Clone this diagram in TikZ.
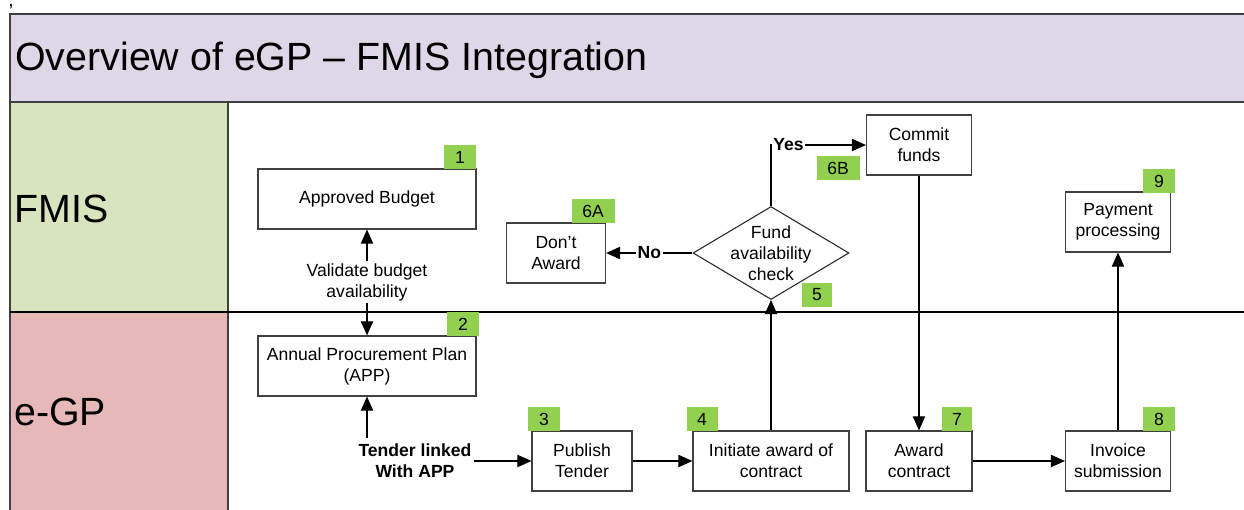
\documentclass[tikz,border=0pt]{standalone}
\usepackage{fontspec}
\setmainfont{Liberation Sans}
\usetikzlibrary{shapes.geometric, arrows.meta}

\definecolor{titlelav}{HTML}{DDD7E8}
\definecolor{fmisgreen}{HTML}{D7E4BD}
\definecolor{egpred}{HTML}{E6B9B8}
\definecolor{stepgreen}{HTML}{92D050}

\newcommand{\boxfont}{\fontsize{10}{12}\selectfont}
\newcommand{\lanefont}{\fontsize{22.4}{26}\selectfont}

\tikzset{
  proc/.style={draw=black!75, line width=0.7pt, fill=white, align=center,
    font=\boxfont, inner sep=1pt, minimum height=1.2cm},
  decision/.style={diamond, draw=black!85, line width=0.6pt, fill=white,
    inner sep=0pt, minimum width=3.12cm, minimum height=1.86cm},
  tag/.style={fill=stepgreen, inner sep=0pt, minimum height=0.48cm, font=\boxfont},
  flow/.style={draw=black, line width=0.6pt, -{Triangle[length=8pt, width=7pt]}},
  lbl/.style={align=center, font=\boxfont, inner sep=1pt},
  answer/.style={fill=white, inner sep=1pt, font=\boxfont\bfseries},
}

\begin{document}
\begin{tikzpicture}[x=0.02cm, y=-0.02cm]
    \useasboundingbox (0,0) rectangle (1244,510);
    \clip (0,0) rectangle (1244,510);

    % heading
    \node[anchor=base, inner sep=0pt, text height=1.5pt, text depth=2pt,
        font=\fontsize{11}{13}\selectfont] (comma) at (11,6.5) {,};
    \draw[black!75, line width=0.7pt, fill=titlelav] (10,14) rectangle (1260,102);
    \node[anchor=base west, inner sep=0pt, font=\lanefont] (heading) at (15,71)
        {Overview of eGP – FMIS Integration};

    % swim lanes
    \draw[black!75, line width=0.7pt, fill=fmisgreen] (10,102) rectangle (228,312);
    \draw[black!75, line width=0.7pt, fill=egpred] (10,312) rectangle (228,520);
    \draw[line width=0.7pt] (10,312) -- (1260,312);
    \node[anchor=base west, inner sep=0pt, font=\lanefont] (fmis) at (14,222) {FMIS};
    \node[anchor=base west, inner sep=0pt, font=\lanefont] (egp) at (14,425) {e-GP};

    % process steps
    \node[proc, minimum width=4.36cm] (budget) at (367,199) {Approved Budget};
    \node[proc, minimum width=4.36cm] (app) at (367,366) {Annual Procurement Plan\\(APP)};
    \node[proc, minimum width=2cm] (publish) at (582,461) {Publish\\Tender};
    \node[proc, minimum width=3.12cm] (initiate) at (771,461) {Initiate award of\\contract};
    \node[decision, label={[lbl]center:{Fund\\availability\\check}}] (fundcheck) at (771,253) {};
    \node[proc, minimum width=1.98cm] (noaward) at (556,253) {Don’t\\Award};
    \node[proc, minimum width=2.1cm] (commit) at (919,145) {Commit\\funds};
    \node[proc, minimum width=2.12cm] (award) at (919,461) {Award\\contract};
    \node[proc, minimum width=2.1cm] (invoice) at (1118,461) {Invoice\\submission};
    \node[proc, minimum width=2.1cm] (payment) at (1118,222) {Payment\\processing};

    % step numbers
    \foreach \id/\x/\y/\w in {
        1/460/157/0.64,
        2/463/324/0.64,
        3/544/419/0.64,
        4/702/419/0.62,
        5/817/295/0.6,
        6A/593/211/0.86,
        6B/838/168/0.86,
        7/957/419/0.6,
        8/1159/419/0.64,
        9/1159/181/0.64
    }{
        \node[tag, minimum width=\w cm] (tag\id) at (\x,\y) {\id};
    }

    % edge labels
    \node[lbl] (validate) at (367,282) {Validate budget\\availability};
    \node[lbl, font=\boxfont\bfseries] (linked) at (415,461) {Tender linked\\With APP};

    % connectors
    \draw[flow] (validate) -- (budget);
    \draw[flow] (validate) -- (app);
    \draw[flow] ([yshift=2pt]linked.north -| app.south) -- (app);
    \draw[flow] (linked) -- (publish);
    \draw[flow] (publish) -- (initiate);
    \draw[flow] (initiate) -- (fundcheck);
    \draw[flow] (fundcheck) -- node[answer] {No} (noaward);
    \draw[flow] (fundcheck.north) |- node[pos=0.5, anchor=west, answer] {Yes} (commit);
    \draw[flow] (commit) -- (award);
    \draw[flow] (award) -- (invoice);
    \draw[flow] (invoice) -- (payment);
\end{tikzpicture}
\end{document}
